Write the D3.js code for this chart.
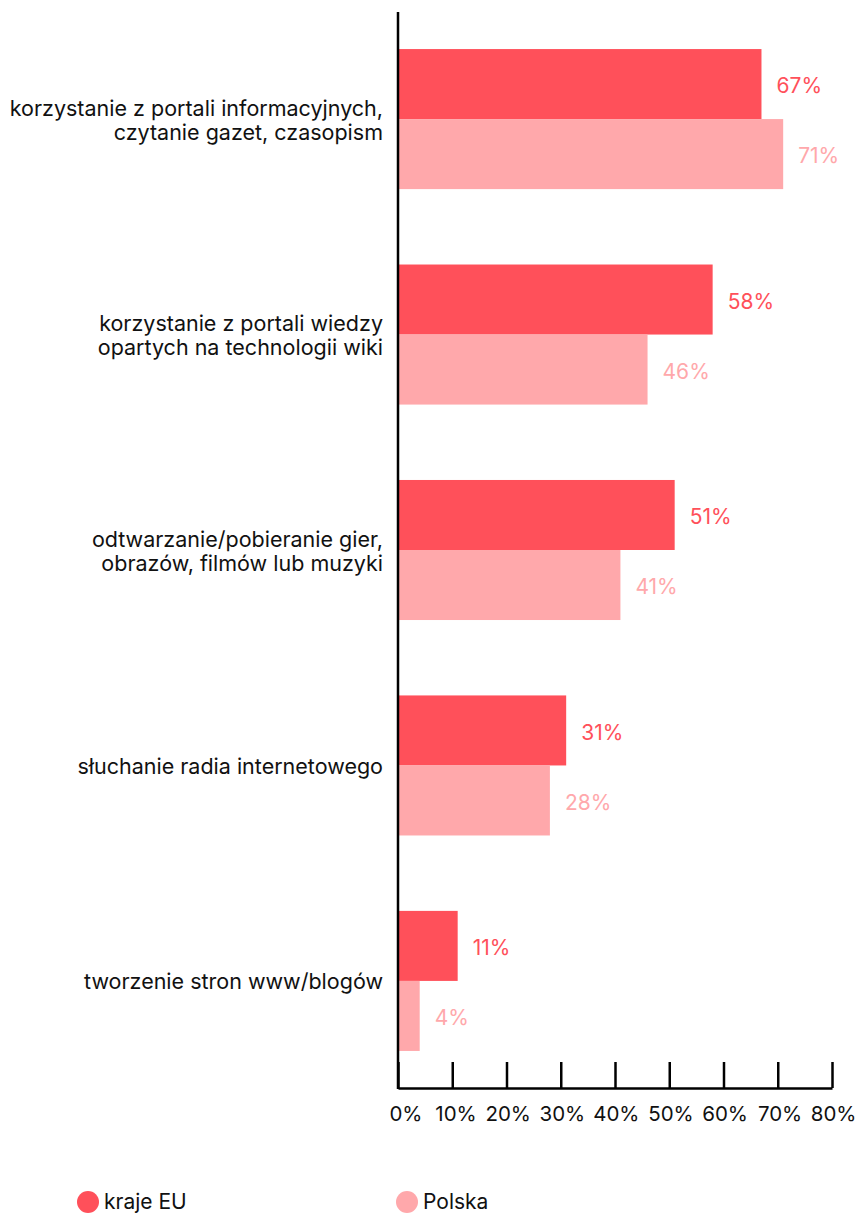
<!DOCTYPE html>
<html><head><meta charset="utf-8">
<script src="https://cdn.jsdelivr.net/npm/d3@7"></script>
<style>
html,body{margin:0;padding:0;background:#fff;}
text{font-family:"Inter","Roboto",sans-serif;}
</style></head>
<body><svg id="c" width="863" height="1214"></svg>
<script>
const categories = [
  ["korzystanie z portali informacyjnych,", "czytanie gazet, czasopism"],
  ["korzystanie z portali wiedzy", "opartych na technologii wiki"],
  ["odtwarzanie/pobieranie gier,", "obrazów, filmów lub muzyki"],
  ["słuchanie radia internetowego"],
  ["tworzenie stron www/blogów"]
];
const seriesNames = ["kraje EU", "Polska"];
const euValues = [67, 58, 51, 31, 11];
const plValues = [71, 46, 41, 28, 4];
const tickValues = [0, 10, 20, 30, 40, 50, 60, 70, 80];
const colors = ["#ff505a", "#ffa8ab"];

const svg = d3.select("#c");
const keys = categories.map((c, i) => i);
const y = d3.scaleBand().domain(keys).range([12, 1088]).paddingInner(0.35).paddingOuter(0.172);
const ySub = d3.scaleBand().domain([0, 1]).range([0, y.bandwidth()]);
const x = d3.scaleLinear().domain([0, 80]).range([398, 832]);
const color = d3.scaleOrdinal().domain([0, 1]).range(colors);

const data = keys.map(i => ({i, vals: [euValues[i], plValues[i]]}));

const g = svg.selectAll("g.grp").data(data).join("g").attr("class", "grp")
  .attr("transform", d => `translate(0,${y(d.i)})`);

g.selectAll("rect").data(d => d.vals.map((v, s) => ({v, s}))).join("rect")
  .attr("x", x(0)).attr("y", d => ySub(d.s))
  .attr("width", d => x(d.v) - x(0)).attr("height", ySub.bandwidth())
  .attr("fill", d => color(d.s));

g.selectAll("text.val").data(d => d.vals.map((v, s) => ({v, s}))).join("text")
  .attr("class", "val")
  .attr("x", d => x(d.v) + 15).attr("y", d => ySub(d.s) + ySub.bandwidth() / 2 + 2)
  .attr("dy", "0.35em").attr("font-size", 21).attr("fill", d => color(d.s))
  .text(d => d.v + "%");

g.each(function(d) {
  const lines = categories[d.i];
  const t = d3.select(this).append("text")
    .attr("text-anchor", "end").attr("font-size", 21.5).attr("fill", "#111");
  const n = lines.length, lh = 24;
  lines.forEach((ln, k) => {
    t.append("tspan").attr("x", 383)
      .attr("y", y.bandwidth() / 2 + (k - (n - 1) / 2) * lh + 1)
      .attr("dy", "0.35em").text(ln);
  });
});

// axes
const axis = d3.axisBottom(x).tickValues(tickValues).tickSize(-26).tickSizeOuter(0)
  .tickFormat(d => d + "%");
const ax = svg.append("g").attr("transform", "translate(0,1088)").call(axis);
ax.select(".domain").attr("stroke", "#000").attr("stroke-width", 2.5);
ax.selectAll(".tick line").attr("stroke", "#000").attr("stroke-width", 2.5);
ax.selectAll(".tick text").attr("font-size", 20.5).attr("fill", "#111")
  .attr("text-anchor", "end").attr("x", 24).attr("y", 33).attr("dy", 0)
  .style("font-family", '"Inter","Roboto",sans-serif');
svg.append("line").attr("x1", x(0)).attr("x2", x(0)).attr("y1", 12).attr("y2", 1089)
  .attr("stroke", "#000").attr("stroke-width", 2.5);

// legend
const legX = [88, 407];
const lg = svg.selectAll("g.leg").data(seriesNames).join("g").attr("class", "leg")
  .attr("transform", (d, i) => `translate(${legX[i]},1202)`);
lg.append("circle").attr("r", 11).attr("fill", (d, i) => colors[i]);
lg.append("text").attr("x", 16).attr("dy", "0.35em").attr("font-size", 21).attr("fill", "#111").text(d => d);
</script></body></html>
